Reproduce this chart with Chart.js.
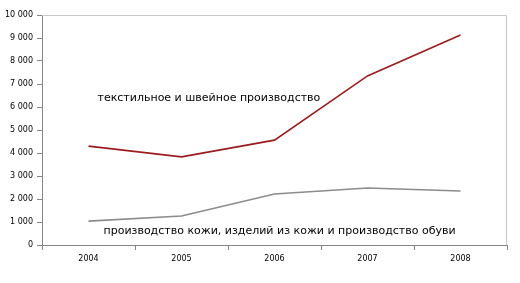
<!DOCTYPE html>
<html>
<head>
<meta charset="utf-8">
<script src="https://cdn.jsdelivr.net/npm/chart.js@4/dist/chart.umd.min.js"></script>
<style>
    html, body { margin: 0; padding: 0; background: #fff; }
    #wrap { width: 520px; height: 283px; }
</style>
</head>
<body>
<div id="wrap"><canvas id="chart" width="520" height="283"></canvas></div>
<script>
// --- Data ---
const years = ['2004', '2005', '2006', '2007', '2008'];
const textileValues = [4300, 3830, 4560, 7350, 9130];
const leatherValues = [1040, 1260, 2220, 2480, 2350];
const textileLabel = 'текстильное и швейное производство';
const leatherLabel = 'производство кожи, изделий из кожи и производство обуви';

// where the series names sit (category index, value)
const textileNameAt = [0, 6400];
const leatherNameAt = [0, 600];

const FONT = '"DejaVu Sans", Verdana, sans-serif';
const AXIS_COLOR = '#868686';

// Draws the light frame and series names inside the plot
const labelPlugin = {
    id: 'seriesNames',
    beforeDatasetsDraw(chart) {
        const { ctx, chartArea } = chart;
        ctx.save();
        ctx.strokeStyle = '#c8c8c8';
        ctx.lineWidth = 1;
        ctx.beginPath();
        ctx.moveTo(chartArea.left, chartArea.top + 0.5);
        ctx.lineTo(chartArea.right - 0.5, chartArea.top + 0.5);
        ctx.lineTo(chartArea.right - 0.5, chartArea.bottom);
        ctx.stroke();
        ctx.restore();
    },
    afterDatasetsDraw(chart) {
        const { ctx, scales } = chart;
        ctx.save();
        ctx.fillStyle = '#000';
        ctx.font = '11px ' + FONT;
        ctx.textBaseline = 'middle';
        ctx.textAlign = 'left';
        ctx.fillText(textileLabel,
            scales.x.getPixelForValue(textileNameAt[0]) + 9,
            scales.y.getPixelForValue(textileNameAt[1]));
        ctx.fillText(leatherLabel,
            scales.x.getPixelForValue(leatherNameAt[0]) + 15,
            scales.y.getPixelForValue(leatherNameAt[1]));
        ctx.restore();
    }
};

new Chart(document.getElementById('chart'), {
    type: 'line',
    data: {
        labels: years,
        datasets: [
            {
                label: textileLabel,
                data: textileValues,
                borderColor: '#9b1c1f',
                borderWidth: 1.6,
                pointRadius: 0,
                tension: 0
            },
            {
                label: leatherLabel,
                data: leatherValues,
                borderColor: '#8c8c8c',
                borderWidth: 1.6,
                pointRadius: 0,
                tension: 0
            }
        ]
    },
    options: {
        responsive: false,
        animation: false,
        layout: { padding: { top: 15, right: 13, left: 0, bottom: 0 } },
        plugins: {
            legend: { display: false },
            tooltip: { enabled: false }
        },
        scales: {
            x: {
                offset: true,
                afterFit(scale) { scale.height = 38; },
                grid: {
                    offset: true,
                    drawOnChartArea: false,
                    drawTicks: true,
                    tickLength: 5,
                    color: AXIS_COLOR
                },
                border: { color: AXIS_COLOR, width: 1 },
                ticks: {
                    color: '#000',
                    font: { family: FONT, size: 8 },
                    padding: 4,
                    maxRotation: 0
                }
            },
            y: {
                min: 0,
                max: 10000,
                afterFit(scale) { scale.width = 42; },
                grid: {
                    drawOnChartArea: false,
                    drawTicks: true,
                    tickLength: 5,
                    color: AXIS_COLOR
                },
                border: { color: AXIS_COLOR, width: 1 },
                ticks: {
                    stepSize: 1000,
                    color: '#000',
                    font: { family: FONT, size: 8 },
                    padding: 4,
                    callback: (v) => String(v).replace(/\B(?=(\d{3})+(?!\d))/g, ' ')
                }
            }
        }
    },
    plugins: [labelPlugin]
});
</script>
</body>
</html>
